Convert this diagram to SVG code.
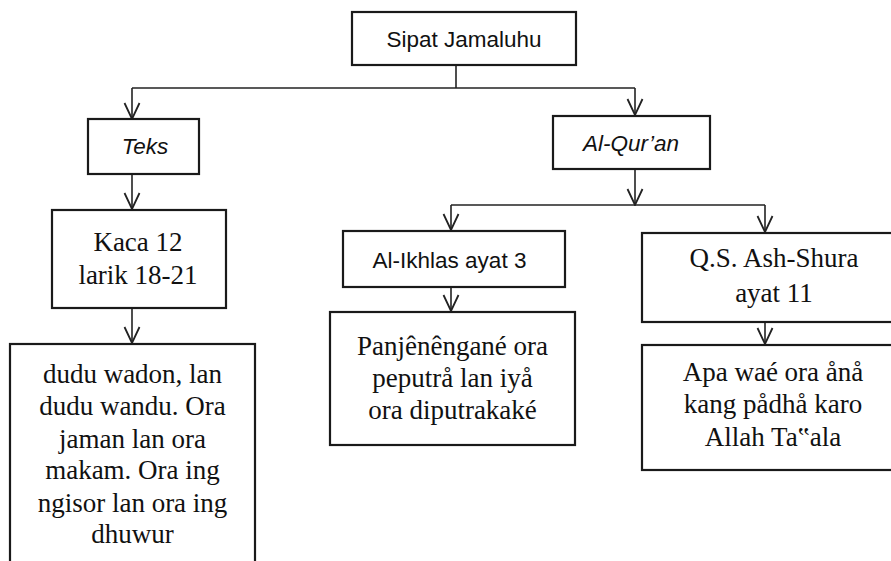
<svg xmlns="http://www.w3.org/2000/svg" width="891" height="561" viewBox="0 0 891 561">
<style>
.box{fill:#fff;stroke:#1a1a1a;stroke-width:2.2}
.ln{fill:none;stroke:#222;stroke-width:1.6}
.sans{font-family:"Liberation Sans",Arial,sans-serif;font-size:22.5px;fill:#111;text-anchor:middle}
.it{font-style:italic}
.ser{font-family:"Liberation Serif","Times New Roman",serif;font-size:27px;fill:#111;text-anchor:middle}
</style>
<defs>
<marker id="ah" markerUnits="userSpaceOnUse" viewBox="0 0 18 18" refX="17" refY="9" markerWidth="18" markerHeight="18" orient="auto">
<path d="M1,1.5 L17,9 L1,16.5" fill="none" stroke="#222" stroke-width="1.8"/>
</marker>
</defs>
<rect width="891" height="561" fill="#fff"/>
<g id="connectors">
<line class="ln" x1="456" y1="65" x2="456" y2="88"/>
<line class="ln" x1="132" y1="88" x2="635" y2="88"/>
<line class="ln" x1="132" y1="88" x2="132" y2="119" marker-end="url(#ah)"/>
<line class="ln" x1="635" y1="88" x2="635" y2="115" marker-end="url(#ah)"/>
<line class="ln" x1="132" y1="174" x2="132" y2="209" marker-end="url(#ah)"/>
<line class="ln" x1="132" y1="308" x2="132" y2="343" marker-end="url(#ah)"/>
<line class="ln" x1="635" y1="169" x2="635" y2="205" marker-end="url(#ah)"/>
<line class="ln" x1="451" y1="205" x2="765" y2="205"/>
<line class="ln" x1="451" y1="205" x2="451" y2="230" marker-end="url(#ah)"/>
<line class="ln" x1="765" y1="205" x2="765" y2="232" marker-end="url(#ah)"/>
<line class="ln" x1="451" y1="287" x2="451" y2="311" marker-end="url(#ah)"/>
<line class="ln" x1="765" y1="322" x2="765" y2="344" marker-end="url(#ah)"/>
</g>
<g id="sipat">
<rect class="box" x="352" y="12" width="224" height="53"/>
<text class="sans" x="464" y="47">Sipat Jamaluhu</text>
</g>
<g id="teks">
<rect class="box" x="88" y="119" width="111" height="55"/>
<text class="sans it" x="145" y="154">Teks</text>
</g>
<g id="alquran">
<rect class="box" x="553" y="116" width="157" height="53"/>
<text class="sans it" x="631" y="151">Al-Qur’an</text>
</g>
<g id="kaca">
<rect class="box" x="52" y="210" width="174" height="98"/>
<text class="ser" x="138" y="251">Kaca 12</text>
<text class="ser" x="138" y="283.5">larik 18-21</text>
</g>
<g id="dudu">
<rect class="box" x="10" y="344" width="245" height="240"/>
<text class="ser" x="132.5" y="383">dudu wadon, lan</text>
<text class="ser" x="132.5" y="415">dudu wandu. Ora</text>
<text class="ser" x="132.5" y="448">jaman lan ora</text>
<text class="ser" x="132.5" y="479">makam. Ora ing</text>
<text class="ser" x="132.5" y="512">ngisor lan ora ing</text>
<text class="ser" x="132.5" y="543">dhuwur</text>
</g>
<g id="alikhlas">
<rect class="box" x="343" y="231" width="222" height="56"/>
<text class="sans" x="449.5" y="268">Al-Ikhlas ayat 3</text>
</g>
<g id="qs">
<rect class="box" x="642" y="233" width="264" height="89"/>
<text class="ser" x="774" y="267">Q.S. Ash-Shura</text>
<text class="ser" x="774" y="301.5">ayat 11</text>
</g>
<g id="panj">
<rect class="box" x="330" y="312" width="245" height="133"/>
<text class="ser" x="452.5" y="355">Panjênêngané ora</text>
<text class="ser" x="452.5" y="387">peputrå lan iyå</text>
<text class="ser" x="452.5" y="419">ora diputrakaké</text>
</g>
<g id="apa">
<rect class="box" x="642" y="345" width="264" height="125"/>
<text class="ser" x="773" y="381">Apa waé ora ånå</text>
<text class="ser" x="773" y="413">kang pådhå karo</text>
<text class="ser" x="773" y="446">Allah Ta‟ala</text>
</g>
</svg>
